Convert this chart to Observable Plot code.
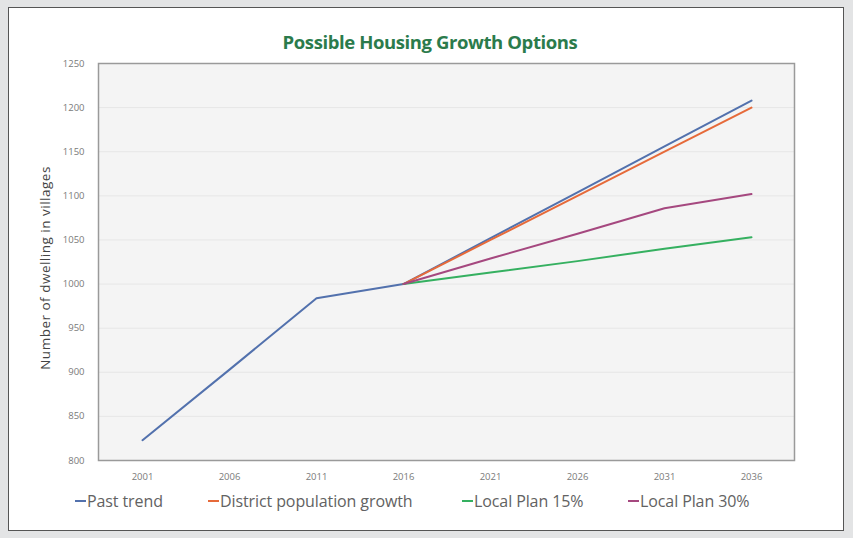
<!DOCTYPE html>
<html>
<head>
<meta charset="utf-8">
<script src="https://cdn.jsdelivr.net/npm/d3@7"></script>
<script src="https://cdn.jsdelivr.net/npm/@observablehq/plot@0.6"></script>
<style>
  html, body { margin: 0; padding: 0; background: #e3e4e5; }
  #wrap { position: relative; width: 853px; height: 538px; overflow: hidden; background: #e3e4e5; font-family: "Open Sans", sans-serif; }
  #panel { position: absolute; left: 8px; top: 7px; width: 836px; height: 524px; background: #fff; border: 1.5px solid #555; box-sizing: border-box; }
  #title { position: absolute; left: 0; width: 860px; top: 29px; text-align: center; font-family: "Open Sans", sans-serif; font-weight: 700; font-size: 18.5px; color: #2b7b4c; letter-spacing: -0.4px; }
  #chart { position: absolute; left: 0; top: 50px; }
  #ylabel { position: absolute; left: 45px; top: 268px; transform: translate(-50%, -50%) rotate(-90deg); font-size: 13.5px; letter-spacing: 0.5px; color: #444; white-space: nowrap; }
  .leg { position: absolute; top: 490px; font-size: 16px; color: #626262; display: flex; align-items: center; white-space: nowrap; letter-spacing: -0.1px; }
  .leg span.sw { display: inline-block; width: 11px; height: 2px; margin-right: 1px; }
</style>
</head>
<body>
<div id="wrap">
  <div id="panel"></div>
  <div id="title">Possible Housing Growth Options</div>
  <div id="chart"></div>
  <div id="ylabel">Number of dwelling in villages</div>
  <div id="legend"></div>
</div>
<script>
const years = ["2001","2006","2011","2016","2021","2026","2031","2036"];
const yTicks = [800, 850, 900, 950, 1000, 1050, 1100, 1150, 1200, 1250];
const seriesNames = ["Past trend", "District population growth", "Local Plan 15%", "Local Plan 30%"];
const seriesColors = ["#5271ad", "#e66a3a", "#35b060", "#a5487f"];
const pastTrend = [823, 903, 984, 1000, 1052, 1104, 1156, 1208];
const districtGrowth = [null, null, null, 1000, 1050, 1100, 1150, 1200];
const localPlan15 = [null, null, null, 1000, 1013, 1026, 1040, 1053];
const localPlan30 = [null, null, null, 1000, 1029, 1057, 1086, 1102];
const legendX = [75, 208, 462, 628];

const seriesValues = [pastTrend, districtGrowth, localPlan15, localPlan30];
const rows = [];
seriesValues.forEach((vals, si) => {
  vals.forEach((v, i) => {
    if (v != null) rows.push({series: seriesNames[si], year: years[i], value: v});
  });
});

const chart = Plot.plot({
  width: 853,
  height: 450,
  marginLeft: 98,
  marginRight: 59,
  marginTop: 13,
  marginBottom: 40,
  style: { fontFamily: "Open Sans, sans-serif", background: "transparent", overflow: "visible" },
  x: { type: "point", domain: years, padding: 0.5, label: null },
  y: { domain: [800, 1250], ticks: yTicks, label: null },
  color: { domain: seriesNames, range: seriesColors },
  marks: [
    Plot.frame({ fill: "#f4f4f4", stroke: null }),
    Plot.gridY(yTicks, { stroke: "#e6e6e6", strokeOpacity: 1, strokeWidth: 1 }),
    Plot.axisY(yTicks, { tickSize: 0, tickPadding: 14, fontSize: 9.5, fill: "#7a7a7a", label: null, tickFormat: d => String(d) }),
    Plot.axisX(years, { tickSize: 0, tickPadding: 13, fontSize: 9.5, fill: "#7a7a7a", label: null }),
    Plot.line(rows, { x: "year", y: "value", z: "series", stroke: "series", strokeWidth: 2 }),
    Plot.frame({ stroke: "#9a9a9a", strokeWidth: 1.5 })
  ]
});
document.getElementById("chart").appendChild(chart);

const legend = document.getElementById("legend");
seriesNames.forEach((name, i) => {
  const d = document.createElement("div");
  d.className = "leg";
  d.style.left = legendX[i] + "px";
  d.innerHTML = `<span class="sw" style="background:${seriesColors[i]}"></span>${name}`;
  legend.appendChild(d);
});
</script>
</body>
</html>
